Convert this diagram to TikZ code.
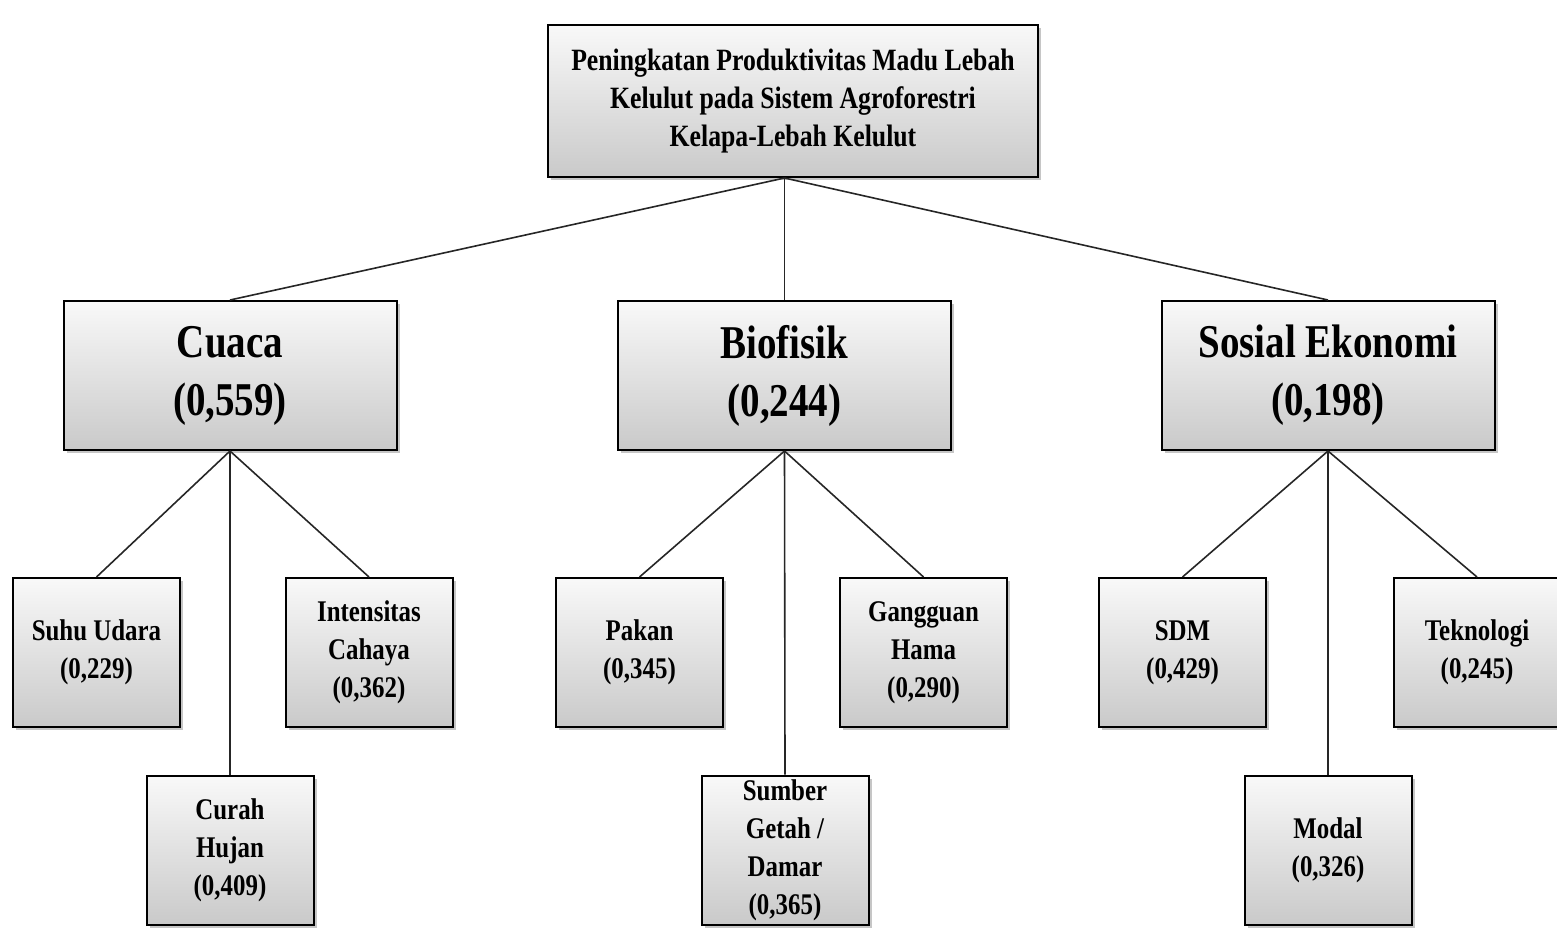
\documentclass[tikz,border=0pt]{standalone}
\usepackage{fontspec}
\setmainfont[FakeStretch=0.83]{Liberation Serif}
\usepackage{tikz}
\usetikzlibrary{shadows}
\tikzstyle{ahpbox} = [draw, line width=1pt, rectangle, inner sep=0pt, align=center, top color=gray!5, bottom color=gray!42, drop shadow={shadow xshift=1.5pt, shadow yshift=-1.5pt, opacity=0.45}]
\tikzstyle{goalbox} = [ahpbox, minimum width=245pt, minimum height=76pt, font=\bfseries\fontsize{15.5}{19}\selectfont]
\tikzstyle{critbox} = [ahpbox, minimum width=166.5pt, minimum height=74.5pt, font=\bfseries\fontsize{23.5}{29}\selectfont]
\tikzstyle{subbox} = [ahpbox, minimum width=83.5pt, minimum height=74.5pt, font=\bfseries\fontsize{15}{19}\selectfont]
\tikzstyle{link} = [line width=0.8pt, black!85]
\begin{document}
		\begin{tikzpicture}[x=0.5pt,y=-0.5pt]
			\useasboundingbox (0,0) rectangle (1557,944);
			\node[goalbox] (goal) at (793,101) {Peningkatan  Produktivitas  Madu Lebah\\Kelulut  pada Sistem Agroforestri\\Kelapa-Lebah  Kelulut};
			\node[critbox] (cuaca) at (230,375.5) {Cuaca\\(0,559)};
			\node[critbox] (bio) at (784.5,375.5) {Biofisik\\(0,244)};
			\node[critbox] (sosek) at (1328,375.5) {Sosial Ekonomi\\(0,198)};
			\node[subbox] (suhu) at (96.5,652.5) {Suhu  Udara\\(0,229)};
			\node[subbox] (intens) at (369,652.5) {Intensitas\\Cahaya\\(0,362)};
			\node[subbox] (curah) at (230,850) {Curah\\Hujan\\(0,409)};
			\node[subbox] (pakan) at (639.5,652.5) {Pakan\\(0,345)};
			\node[subbox] (hama) at (923.5,652.5) {Gangguan\\Hama\\(0,290)};
			\node[subbox] (getah) at (785,850) {Sumber\\Getah /\\Damar\\(0,365)};
			\node[subbox] (sdm) at (1182.5,652.5) {SDM\\(0,429)};
			\node[subbox] (tekno) at (1477,652.5) {Teknologi\\(0,245)};
			\node[subbox] (modal) at (1328,850) {Modal\\(0,326)};
			\coordinate (hub) at (goal.south -| bio.north);
			\draw[link] (hub) -- (cuaca.north);
			\draw[link] (hub) -- (bio.north);
			\draw[link] (hub) -- (sosek.north);
			\draw[link] (cuaca.south) -- (suhu.north);
			\draw[link] (cuaca.south) -- (intens.north);
			\draw[link] (cuaca.south) -- (curah.north);
			\draw[link] (bio.south) -- (pakan.north);
			\draw[link] (bio.south) -- (hama.north);
			\draw[link] (bio.south) -- (getah.north);
			\draw[link] (sosek.south) -- (sdm.north);
			\draw[link] (sosek.south) -- (tekno.north);
			\draw[link] (sosek.south) -- (modal.north);
		\end{tikzpicture}
\end{document}
